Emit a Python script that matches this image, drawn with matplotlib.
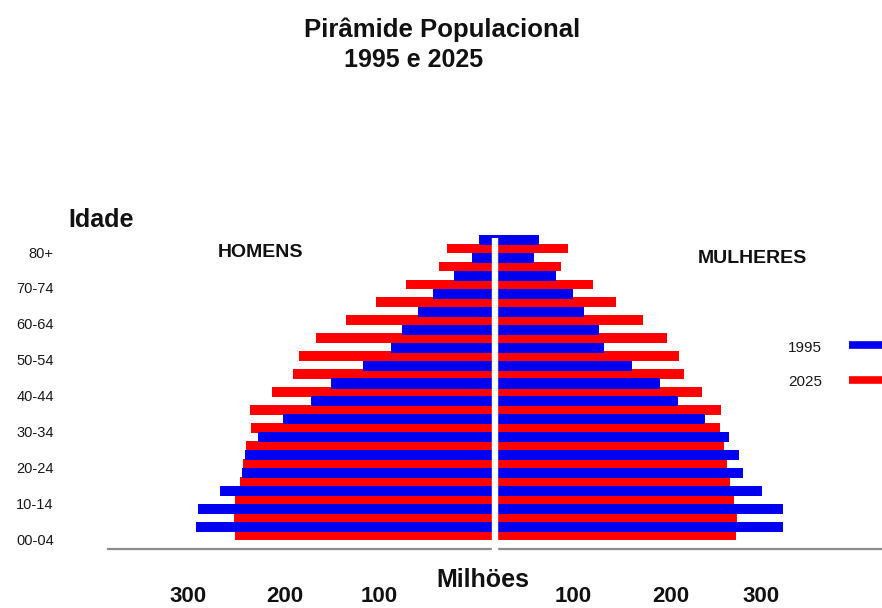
import matplotlib
matplotlib.use("Agg")
import matplotlib.pyplot as plt
from matplotlib.lines import Line2D

plt.rcParams['font.family'] = ['Liberation Sans', 'DejaVu Sans']

# Age groups, from youngest (bottom) to oldest (top)
age_groups = ['00-04', '05-09', '10-14', '15-19', '20-24', '25-29', '30-34', '35-39',
              '40-44', '45-49', '50-54', '55-59', '60-64', '65-69', '70-74', '75-79', '80+']
# Population in millions
men_1995 = [315, 313, 289, 266, 263, 249, 223, 194, 173, 139, 109, 98, 81, 65, 43, 24, 17]
men_2025 = [274, 275, 274, 268, 265, 262, 257, 258, 235, 213, 206, 188, 157, 125, 94, 59, 51]
women_1995 = [303, 303, 281, 261, 257, 246, 221, 193, 174, 144, 115, 109, 94, 82, 64, 41, 46]
women_2025 = [254, 255, 252, 247, 244, 241, 237, 238, 218, 199, 194, 181, 156, 127, 103, 69, 77]

ytick_labels = ['00-04', '10-14', '20-24', '30-34', '40-44', '50-54', '60-64', '70-74', '80+']
xtick_pos = [-323, -221, -122, 82, 185, 280]
xtick_labels = ['300', '200', '100', '100', '200', '300']

W, H = 882, 608
fig = plt.figure(figsize=(W / 100, H / 100), dpi=100)

def fx(px):
    return px / W

def fy(py):
    return 1 - py / H

ax_left, ax_right, ax_top, ax_bottom = 108, 882, 200, 549
ax = fig.add_axes([fx(ax_left), fy(ax_bottom), (ax_right - ax_left) / W, (ax_bottom - ax_top) / H])

BLUE = '#0000f0'
RED = '#ff0000'
n = len(age_groups)
ypos = list(range(n))
red_off = 0.47
ax.barh([y - red_off for y in ypos], [-v for v in men_2025], height=0.53, color=RED, zorder=2)
ax.barh([y - red_off for y in ypos], women_2025, height=0.53, color=RED, zorder=2)
ax.barh(ypos, [-v for v in men_1995], height=0.56, color=BLUE, zorder=3)
ax.barh(ypos, women_1995, height=0.56, color=BLUE, zorder=3)

ax.set_xlim(-407.4, 407.4)
ax.set_ylim(-1.226, 18.23)

# white center divider
ax.plot([0, 0], [16.1, -2.0], color='white', lw=4.6, zorder=5, clip_on=False, solid_capstyle='butt')

for s in ['top', 'right', 'left']:
    ax.spines[s].set_visible(False)
ax.spines['bottom'].set_color('#8c8c8c')
ax.spines['bottom'].set_linewidth(1.6)

ax.set_yticks([i - 0.67 for i in range(0, n, 2)])
ax.set_yticklabels(ytick_labels, fontsize=10.5, color='#1a1a1a')
ax.tick_params(axis='y', length=0, pad=39)

ax.set_xticks(xtick_pos)
ax.set_xticklabels(xtick_labels, fontsize=16, fontweight='bold', color='#111111')
ax.tick_params(axis='x', length=0, pad=27)

txt = dict(color='#111111', fontweight='bold')
fig.text(fx(442.5), fy(37), 'Pirâmide Populacional', ha='center', va='baseline', fontsize=18.5, **txt)
fig.text(fx(414), fy(67), '1995 e 2025', ha='center', va='baseline', fontsize=18, **txt)
fig.text(fx(68), fy(227), 'Idade', ha='left', va='baseline', fontsize=18, **txt)
fig.text(fx(218), fy(257), 'HOMENS', ha='left', va='baseline', fontsize=14, **txt)
fig.text(fx(698), fy(263), 'MULHERES', ha='left', va='baseline', fontsize=14, **txt)
fig.text(fx(482.5), fy(587), 'Milhöes', ha='center', va='baseline', fontsize=18, **txt)

# legend
fig.text(fx(788), fy(352), '1995', ha='left', va='baseline', fontsize=11, color='#1a1a1a')
fig.text(fx(788), fy(386), '2025', ha='left', va='baseline', fontsize=11, color='#1a1a1a')
fig.add_artist(Line2D([fx(849), fx(890)], [fy(345), fy(345)], color=BLUE, lw=5.5, solid_capstyle='butt'))
fig.add_artist(Line2D([fx(849), fx(890)], [fy(380), fy(380)], color=RED, lw=5.5, solid_capstyle='butt'))

fig.savefig('out.png', dpi=100)
